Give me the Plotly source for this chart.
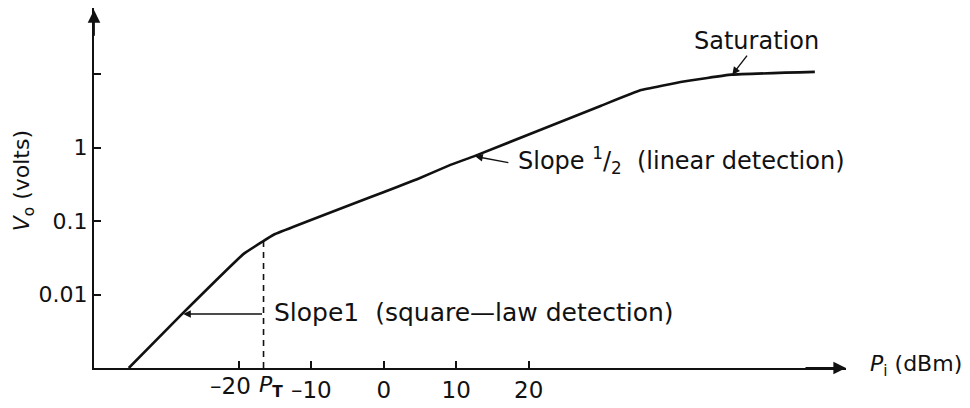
import numpy as np
import plotly.graph_objects as go

# ---- data ----
P_IN_DBM = [-35.2, -27.8, -19.3, -16.8, -15.2, 4.6, 9.2, 12.6, 30.0, 35.4, 41.4, 48.0, 59.5]
V_OUT = [0.001, 0.0055, 0.036, 0.052, 0.065, 0.37, 0.58, 0.77, 3.7, 6.0, 7.9, 9.8, 10.7]
X_TICKS = [-20, -10, 0, 10, 20]
X_TICK_TEXT = ["", "\u201310", "0", "10", "20"]
X_LABEL_M20 = "\u201320"
Y_TICKS = [0.01, 0.1, 1, 10]
Y_TICK_TEXT = ["0.01", "0.1", "1", ""]
P_T = -16.6
V_AT_PT = 0.052

FONT = "DejaVu Sans"
INK = "#111111"

fig = go.Figure()
fig.add_trace(go.Scatter(x=P_IN_DBM, y=V_OUT, mode="lines",
                         line=dict(color=INK, width=2.6, shape="spline", smoothing=0.3),
                         hoverinfo="skip"))
fig.add_trace(go.Scatter(x=[P_T, P_T], y=[0.001, V_AT_PT], mode="lines",
                         line=dict(color=INK, width=1.6, dash="6px,5px"), hoverinfo="skip"))

ann = []
# axis arrowheads
ann.append(dict(x=63.8, y=-3, ax=58, ay=-3, xref="x", yref="y", axref="x", ayref="y",
                showarrow=True, arrowhead=2, arrowsize=1.4, arrowwidth=1.8, arrowcolor=INK, text=""))
ann.append(dict(x=-40, y=1.87, ax=-40, ay=1.5, xref="x", yref="y", axref="x", ayref="y",
                showarrow=True, arrowhead=2, arrowsize=1.4, arrowwidth=1.8, arrowcolor=INK, text=""))
# pointer arrows
ann.append(dict(x=-27.7, y=-2.265, ax=P_T, ay=-2.265, xref="x", yref="y", axref="x", ayref="y",
                showarrow=True, arrowhead=2, arrowsize=1.1, arrowwidth=1.4, arrowcolor=INK, text=""))
ann.append(dict(x=12.6, y=-0.12, ax=17.4, ay=-0.21, xref="x", yref="y", axref="x", ayref="y",
                showarrow=True, arrowhead=2, arrowsize=1.1, arrowwidth=1.4, arrowcolor=INK, text=""))
ann.append(dict(x=48.1, y=0.99, ax=50.3, ay=1.27, xref="x", yref="y", axref="x", ayref="y",
                showarrow=True, arrowhead=2, arrowsize=1.1, arrowwidth=1.4, arrowcolor=INK, text=""))
# texts
tf = dict(family=FONT, size=24, color=INK)
ann.append(dict(x=51.5, y=1.449, xref="x", yref="y", text="Saturation", showarrow=False, font=tf))
ann.append(dict(x=18.3, y=-0.17, xref="x", yref="y", xanchor="left",
                text="Slope <sup>1</sup>/<sub>2</sub>  (linear detection)", showarrow=False, font=tf))
ann.append(dict(x=-15.4, y=-2.25, xref="x", yref="y", xanchor="left",
                text="Slope1\u00a0\u00a0(square\u2014law detection)", showarrow=False,
                font=dict(family=FONT, size=25, color=INK)))
ann.append(dict(x=X_TICKS[0], y=-0.05, xref="x", yref="paper", yanchor="middle", xshift=-8,
                text=X_LABEL_M20, showarrow=False,
                font=dict(family=FONT, size=23, color=INK)))
ann.append(dict(x=P_T, y=-0.05, xref="x", yref="paper", yanchor="middle", xshift=7,
                text="<i>P</i><sub><b>T</b></sub>", showarrow=False,
                font=dict(family=FONT, size=22, color=INK)))
ann.append(dict(x=1.029, y=0.008, xref="paper", yref="paper", xanchor="left", yanchor="middle",
                text="<i>P</i><sub>i</sub> (dBm)", showarrow=False,
                font=dict(family=FONT, size=22, color=INK)))
ann.append(dict(x=-0.094, y=-0.456, xref="paper", yref="y", textangle=-90,
                xanchor="center", yanchor="middle",
                text="<i>V</i><sub>o</sub> (volts)", showarrow=False,
                font=dict(family=FONT, size=22, color=INK)))

fig.update_layout(
    width=970, height=408,
    margin=dict(l=94, r=124, t=8, b=40),
    paper_bgcolor="white", plot_bgcolor="white",
    showlegend=False,
    annotations=ann,
    xaxis=dict(range=[-40, 63.8], showgrid=False, zeroline=False, automargin=False,
               showline=True, linecolor=INK, linewidth=2,
               tickmode="array", tickvals=X_TICKS, ticktext=X_TICK_TEXT,
               ticks="inside", ticklen=7, tickwidth=1.6, tickcolor=INK,
               tickfont=dict(family=FONT, size=23, color=INK)),
    yaxis=dict(type="log", range=[-3, 1.898], showgrid=False, zeroline=False, automargin=False,
               showline=True, linecolor=INK, linewidth=2,
               tickmode="array", tickvals=Y_TICKS, ticktext=Y_TICK_TEXT,
               ticks="inside", ticklen=7, tickwidth=1.6, tickcolor=INK,
               tickfont=dict(family=FONT, size=22, color=INK)),
)

fig.write_html("out.html")
